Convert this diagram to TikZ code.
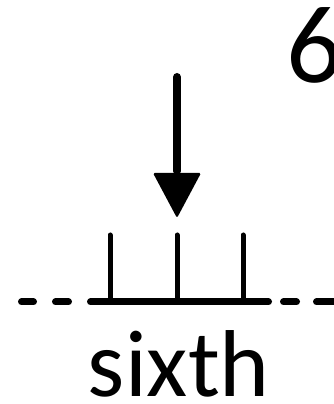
\documentclass[tikz,border=0pt]{standalone}
\usepackage{fontspec}
\setmainfont{Carlito}
\begin{document}
\begin{tikzpicture}[x=1pt,y=1pt,
  lbl/.style={inner sep=0pt,font=\fontsize{95}{95}\selectfont},
  numlbl/.style={inner sep=0pt,font=\fontsize{111}{111}\selectfont},
  tick/.style={line width=5pt,line cap=round},
  base/.style={line width=7pt,line cap=round},
  dashseg/.style={line width=7pt,line cap=round}]
\useasboundingbox (0,0) rectangle (334,404);
% text
\node[lbl,anchor=base] (word) at (179,7) {sixth};
\node[numlbl,anchor=base west] (num) at (286,321) {6};
% arrow
\coordinate (atop) at (177,327);
\coordinate (abase) at (177,233);
\coordinate (atip) at (177,186);
\draw[line width=8pt,line cap=round] (atop) -- (abase);
\fill[rounded corners=1.5pt] (153,231) -- (201,231) -- (atip) -- cycle;
% baseline
\coordinate (bl) at (90.5,102);
\coordinate (br) at (268.5,102);
\draw[base] (bl) -- (br);
% ticks
\foreach \x/\n in {110/t1,177/t2,243/t3}{
  \coordinate (\n top) at (\x,169);
  \coordinate (\n bot) at (\x,102);
  \draw[tick] (\n top) -- (\n bot);
}
% dashes
\foreach \a/\b in {21.5/33.5,55.5/68.5,283.5/296.5,316.5/340}{
  \draw[dashseg] (\a,102) -- (\b,102);
}
\end{tikzpicture}
\end{document}
